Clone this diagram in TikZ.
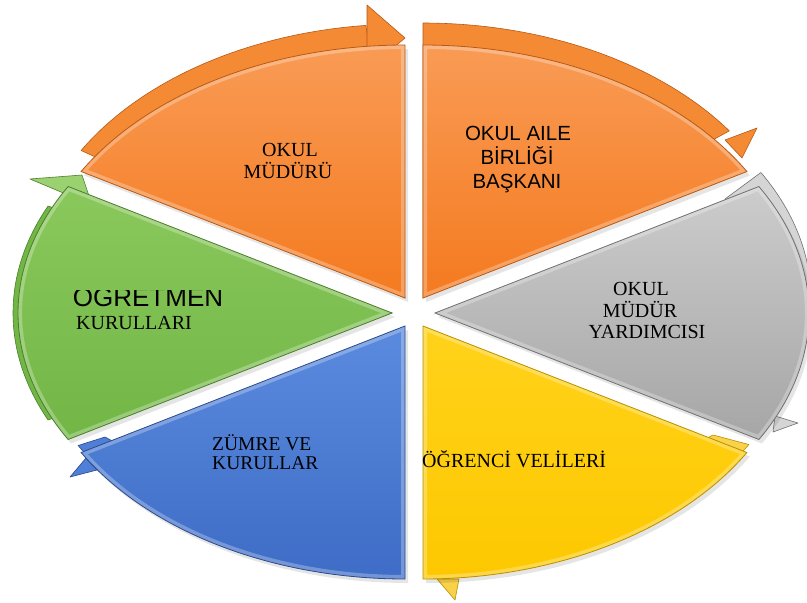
\documentclass[tikz,border=0pt]{standalone}
\usepackage{fontspec}
\setmainfont{Liberation Serif}
\newfontfamily\arialf{Liberation Sans}
\definecolor{orTop}{HTML}{F99B55}
\definecolor{orBot}{HTML}{F47A1F}
\definecolor{orEdge}{HTML}{B85A14}
\definecolor{orBand}{HTML}{F58A35}
\definecolor{grTop}{HTML}{CCCCCC}
\definecolor{grBot}{HTML}{A6A6A6}
\definecolor{grEdge}{HTML}{707070}
\definecolor{grBand}{HTML}{D5D5D5}
\definecolor{yeTop}{HTML}{FFD21A}
\definecolor{yeBot}{HTML}{FDC800}
\definecolor{yeEdge}{HTML}{B89000}
\definecolor{yeBand}{HTML}{F9D24A}
\definecolor{blTop}{HTML}{5B8BDF}
\definecolor{blBot}{HTML}{3E6CC6}
\definecolor{blEdge}{HTML}{2A4A8A}
\definecolor{blBand}{HTML}{4F7FD6}
\definecolor{gnTop}{HTML}{8AC85C}
\definecolor{gnBot}{HTML}{72B646}
\definecolor{gnEdge}{HTML}{4A7F2A}
\definecolor{gnBand}{HTML}{9BD170}
% sector of the ellipse: apex (#1,#2), parametric angles #3..#4
\newcommand\secpath[4]{(#1,#2) -- plot[domain=#3:#4,samples=60] ({#1+374*cos(\x)},{#2-253*sin(\x)}) -- cycle}
% band behind a sector: closing point (#1,#2), apex (#3,#4), shift (#5,#6), angles #7..#8
\newcommand\bandpath[8]{(#1,#2) -- plot[domain=#7:#8,samples=50] ({#3+#5+374*cos(\x)},{#4+#6-253*sin(\x)}) -- cycle}
\newcommand\drawsector[6]{%
  \fill[black,opacity=.10,shift={(3,4)}] \secpath{#1}{#2}{#3}{#4};
  \path[#5] \secpath{#1}{#2}{#3}{#4};
  \begin{scope}
    \clip \secpath{#1}{#2}{#3}{#4};
    \draw[white,opacity=.28,line width=8pt] \secpath{#1}{#2}{#3}{#4};
  \end{scope}
  \draw[#6,line width=.8pt] \secpath{#1}{#2}{#3}{#4};
}
\tikzset{
  tms/.style={font=\fontsize{20}{22}\selectfont, inner sep=0pt, anchor=base, text=black},
  ari/.style={font=\arialf\fontsize{20.5}{24}\selectfont, inner sep=0pt, anchor=base, text=black},
  bandline/.style={line width=.6pt, line join=round},
}
\begin{document}
\begin{tikzpicture}[x=1pt,y=-1pt]
\clip (0,0) rectangle (807,603);
\fill[white] (0,0) rectangle (807,603);

% ---- bands and arrow heads (behind the sectors)
\filldraw[fill=orBand,draw=orEdge,bandline] \bandpath{405}{298}{405}{298}{0}{-21}{150}{96};
\filldraw[fill=orBand,draw=orEdge,bandline] (367,5) -- (405,38) -- (367,70) -- cycle;
\filldraw[fill=orBand,draw=orEdge,bandline] \bandpath{423}{298}{423}{298}{0}{-22}{90}{35};
\filldraw[fill=orBand,draw=orEdge,bandline] (725,140) -- (757,128) -- (742,158) -- cycle;
\filldraw[fill=grBand,draw=grEdge,bandline] \bandpath{725}{199}{435}{313}{2}{-14}{30}{-25};
\filldraw[fill=grBand,draw=grEdge,bandline] (775,416) -- (798,423) -- (773,432) -- cycle;
\filldraw[fill=yeBand,draw=yeEdge,bandline] \bandpath{713}{435}{423}{326}{2}{-8}{330}{275};
\filldraw[fill=yeBand,draw=yeEdge,bandline] (437,579) -- (455,600) -- (459,579) -- cycle;
\filldraw[fill=blBand,draw=blEdge,bandline] \bandpath{105}{437}{405}{326}{-3}{-7}{210}{262};
\filldraw[fill=blBand,draw=blEdge,bandline] (86,458) -- (70,477) -- (97,470) -- cycle;
\filldraw[fill=gnBot,draw=gnEdge,bandline] \bandpath{392}{313}{392}{313}{-5}{0}{205}{155};
\filldraw[fill=gnBand,draw=gnEdge,bandline] (30,179) -- (82,175) -- (92,205) -- cycle;

% ---- sectors
\drawsector{405}{298}{90}{150}{top color=orTop,bottom color=orBot}{orEdge}
\drawsector{423}{298}{30}{90}{top color=orTop,bottom color=orBot}{orEdge}
\drawsector{435}{313}{-30}{30}{top color=grTop,bottom color=grBot}{grEdge}
\drawsector{423}{326}{270}{330}{top color=yeTop,bottom color=yeBot}{yeEdge}
\drawsector{405}{326}{210}{270}{top color=blTop,bottom color=blBot}{blEdge}
\drawsector{392}{313}{150}{210}{top color=gnTop,bottom color=gnBot}{gnEdge}

% ---- texts
\node[tms] (t1a) at (290,156) {OKUL};
\node[tms] (t1b) at (288,178) {MÜDÜRÜ};
\node[ari] (t2a) at (518,140) {OKUL AILE};
\node[ari] (t2b) at (517,164) {BİRLİĞİ};
\node[ari] (t2c) at (517,188) {BAŞKANI};
\node[tms] (t3a) at (641,295) {OKUL};
\node[tms] (t3b) at (640,317) {MÜDÜR};
\node[tms] (t3c) at (647,338) {YARDIMCISI};
\begin{scope}
  \clip (60,290.5) rectangle (240,320);
  \node[ari,font=\arialf\fontsize{26}{28}\selectfont] (t6a) at (148,306) {ÖĞRETMEN};
\end{scope}
\node[tms] (t6b) at (134,329) {KURULLARI};
\node[tms,font=\fontsize{19.5}{21}\selectfont,anchor=base west] (t5a) at (212,450) {ZÜMRE VE};
\node[tms,font=\fontsize{19.5}{21}\selectfont,anchor=base west] (t5b) at (212,469) {KURULLAR};
\node[tms,anchor=base west] (t4a) at (422,467) {ÖĞRENCİ VELİLERİ};
\end{tikzpicture}
\end{document}
